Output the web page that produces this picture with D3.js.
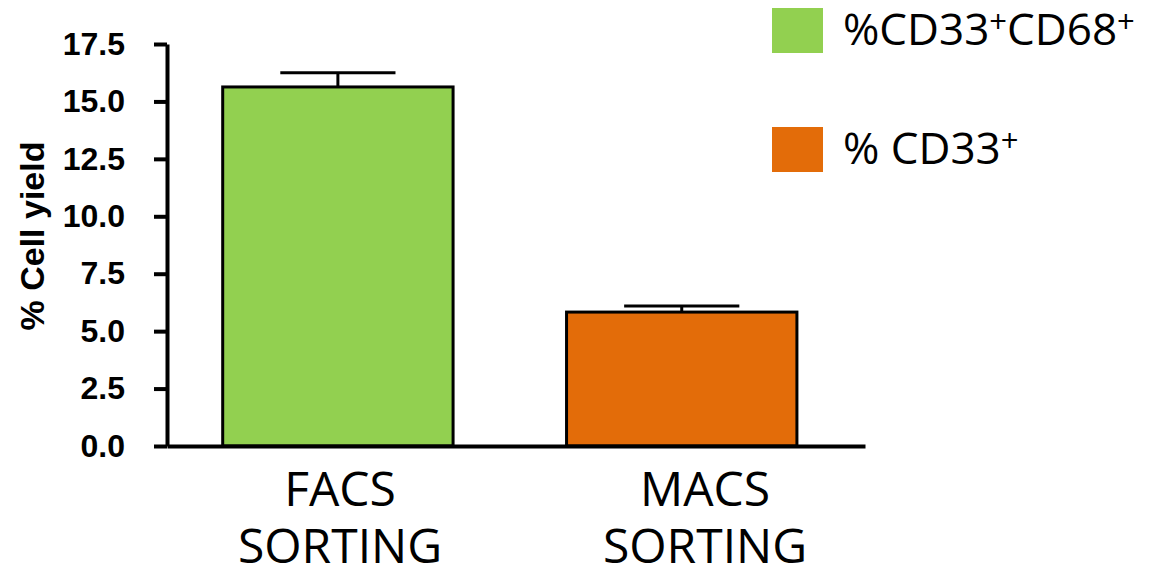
<!DOCTYPE html>
<html>
<head>
<meta charset="utf-8">
<script src="https://cdn.jsdelivr.net/npm/d3@7"></script>
<style>
  html, body { margin: 0; padding: 0; background: #fff; }
  svg { display: block; }
</style>
</head>
<body>
<svg id="chart" width="1172" height="565"></svg>
<script>
// Sorting methods and their mean cell yields (%) with SEM
const categories = ["FACS SORTING", "MACS SORTING"];
const yieldMeans = [15.63, 5.83];
const yieldErrors = [0.62, 0.26];
const barColors = ["#92D050", "#E36C09"];
const yTicks = [0, 2.5, 5, 7.5, 10, 12.5, 15, 17.5];
const legendItems = [
  { parts: [["%CD33", false], ["+", true], ["CD68", false], ["+", true]] },
  { parts: [["% CD33", false], ["+", true]] }
];

const svg = d3.select("#chart");

const y = d3.scaleLinear().domain([0, 17.5]).range([446, 44]);
const x = d3.scaleBand()
  .domain(categories)
  .range([167, 865])
  .paddingInner(0.33)
  .paddingOuter(0.18)
  .align(0.45);
// Category captions sit on their own, slightly wider, spacing
const labelX = d3.scalePoint().domain(categories).range([340, 705]);

// Bars
svg.append("g").selectAll("rect")
  .data(categories)
  .join("rect")
  .attr("x", d => x(d))
  .attr("y", (d, i) => y(yieldMeans[i]))
  .attr("width", x.bandwidth())
  .attr("height", (d, i) => y(0) - y(yieldMeans[i]))
  .attr("fill", (d, i) => barColors[i])
  .attr("stroke", "#000")
  .attr("stroke-width", 3);

// Upper error bars
const err = svg.append("g").attr("stroke", "#000").attr("stroke-width", 3);
categories.forEach((c, i) => {
  const cx = x(c) + x.bandwidth() / 2;
  const half = x.bandwidth() * 0.25;
  err.append("line")
    .attr("x1", cx).attr("x2", cx)
    .attr("y1", y(yieldMeans[i])).attr("y2", y(yieldMeans[i] + yieldErrors[i]));
  err.append("line")
    .attr("x1", cx - half).attr("x2", cx + half)
    .attr("y1", y(yieldMeans[i] + yieldErrors[i])).attr("y2", y(yieldMeans[i] + yieldErrors[i]));
});

// Y axis
const yAxis = svg.append("g")
  .attr("transform", "translate(167,0)")
  .call(d3.axisLeft(y).tickValues(yTicks).tickFormat(d3.format(".1f")).tickSize(13).tickSizeOuter(0).tickPadding(29));
yAxis.selectAll("path, line").attr("stroke", "#000").attr("stroke-width", 4);
yAxis.selectAll("text")
  .attr("fill", "#000")
  .style("font-family", "'Liberation Sans', Arial, sans-serif")
  .style("font-weight", "bold")
  .style("font-size", "32px");

// X axis
const xAxis = svg.append("g")
  .attr("transform", "translate(0,446)")
  .call(d3.axisBottom(x).tickSize(0).tickSizeOuter(0).tickFormat(""));
xAxis.select("path").attr("stroke", "#000").attr("stroke-width", 4);

// Category labels on two lines
const catLabels = svg.append("g")
  .style("font-family", "'Open Sans', sans-serif")
  .style("font-size", "48px")
  .attr("fill", "#000")
  .attr("text-anchor", "middle");
categories.forEach(c => {
  const words = c.split(" ");
  const t = catLabels.append("text").attr("x", labelX(c));
  words.forEach((w, j) => {
    t.append("tspan")
      .attr("x", labelX(c))
      .attr("y", 506 + j * 57)
      .text(w);
  });
});

// Y axis title
svg.append("text")
  .attr("transform", "translate(44,236) rotate(-90)")
  .attr("text-anchor", "middle")
  .style("font-family", "'Liberation Sans', Arial, sans-serif")
  .style("font-weight", "bold")
  .style("font-size", "34px")
  .attr("fill", "#000")
  .text("% Cell yield");

// Legend
const legend = svg.append("g");
const legendY = [8, 127];
legendItems.forEach((item, i) => {
  legend.append("rect")
    .attr("x", 772).attr("y", legendY[i])
    .attr("width", 51).attr("height", 45)
    .attr("fill", barColors[i]);
  const t = legend.append("text")
    .attr("x", 843).attr("y", legendY[i] + 37)
    .style("font-family", "'Open Sans', sans-serif")
    .style("font-size", "44px")
    .attr("fill", "#000");
  item.parts.forEach(([s, sup]) => {
    const sp = t.append("tspan").text(s);
    if (sup) sp.attr("baseline-shift", "40%").style("font-size", "31px");
  });
});
</script>
</body>
</html>
